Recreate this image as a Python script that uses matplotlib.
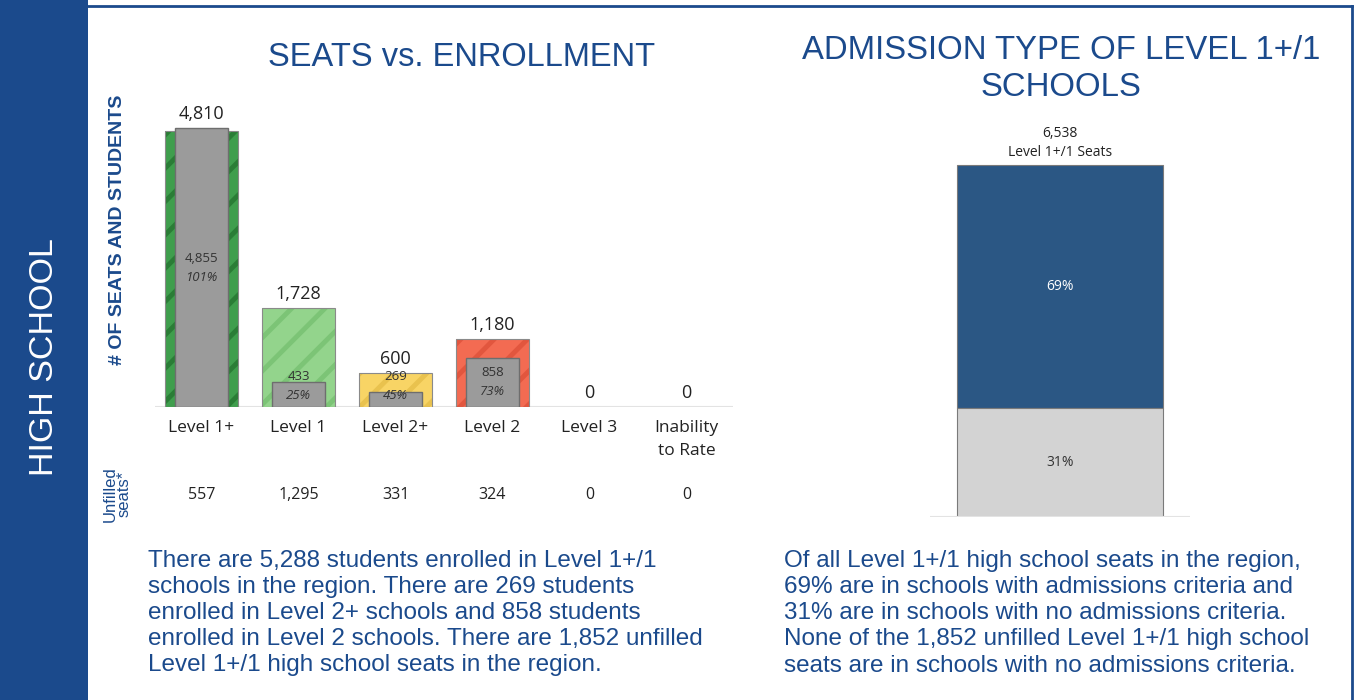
import numpy as np
import matplotlib
matplotlib.use("Agg")
import matplotlib.pyplot as plt
from matplotlib import font_manager

# --- data ---
levels = ["Level 1+", "Level 1", "Level 2+", "Level 2", "Level 3", "Inability\nto Rate"]
seats = [4810, 1728, 600, 1180, 0, 0]
enrolled = [4855, 433, 269, 858, 0, 0]
pct_filled = ["101%", "25%", "45%", "73%", "", ""]
unfilled = [557, 1295, 331, 324, 0, 0]
bar_colors = ["#3f9e4d", "#93d48c", "#f8d465", "#f36b52", "#cccccc", "#cccccc"]
stripe_colors = ["#2a7d36", "#7cc476", "#e9c24e", "#e2563e", "#bbbbbb", "#bbbbbb"]

total_seats = 6538
adm_share = [0.69, 0.31]
adm_labels = ["69%", "31%"]
adm_colors = ["#2b5784", "#d3d3d3"]

BLUE = "#1b4a8c"
W, H = 1355, 700

left_text = ("There are 5,288 students enrolled in Level 1+/1\n"
             "schools in the region. There are 269 students\n"
             "enrolled in Level 2+ schools and 858 students\n"
             "enrolled in Level 2 schools. There are 1,852 unfilled\n"
             "Level 1+/1 high school seats in the region.")
right_text = ("Of all Level 1+/1 high school seats in the region,\n"
              "69% are in schools with admissions criteria and\n"
              "31% are in schools with no admissions criteria.\n"
              "None of the 1,852 unfilled Level 1+/1 high school\n"
              "seats are in schools with no admissions criteria.")

names = sorted({f.name for f in font_manager.fontManager.ttflist})
narrow = [n for n in ["Liberation Sans Narrow", "DejaVu Sans Condensed"] if n in names]
narrow += ["Liberation Sans", "DejaVu Sans"]
book = ["Open Sans", "DejaVu Sans"]
para = ["Liberation Sans", "DejaVu Sans"]

plt.rcParams["hatch.linewidth"] = 3.5


def px_axes(fig, x0, y0, x1, y1):
    # pixel box (top-left origin) -> figure axes
    return fig.add_axes([x0 / W, 1 - y1 / H, (x1 - x0) / W, (y1 - y0) / H])


fig = plt.figure(figsize=(W / 100, H / 100), dpi=100)

# frame + side band
bg = fig.add_axes([0, 0, 1, 1])
bg.set_xlim(0, W)
bg.set_ylim(H, 0)
bg.axis("off")
bg.add_patch(plt.Rectangle((0, 0), 88, H, color=BLUE, lw=0))
bg.plot([88, 1352], [6, 6], color=BLUE, lw=2)
bg.plot([1352, 1352], [6, H], color=BLUE, lw=2)
bg.text(45, 357, "HIGH SCHOOL", rotation=90, color="white", fontsize=24.5,
        family=narrow, ha="center", va="center")
bg.text(118, 230, "# OF SEATS AND STUDENTS", rotation=90, color=BLUE, fontsize=14,
        fontweight="bold", family=narrow, ha="center", va="center")
bg.text(117, 494, "Unfilled\nseats*", rotation=90, color=BLUE, fontsize=12,
        family=narrow, ha="center", va="center", linespacing=0.9)
bg.text(462, 58, "SEATS vs. ENROLLMENT", color=BLUE, fontsize=23.5,
        family=narrow, ha="center", va="center")
bg.text(1061, 69, "ADMISSION TYPE OF LEVEL 1+/1\nSCHOOLS", color=BLUE, fontsize=23.7,
        family=narrow, ha="center", va="center", linespacing=1.22)
bg.text(148, 613, left_text, color=BLUE, fontsize=17.5, family=para,
        ha="left", va="center", linespacing=1.25)
bg.text(784, 613, right_text, color=BLUE, fontsize=17.5, family=para,
        ha="left", va="center", linespacing=1.25)

# --- left chart: seats vs enrollment ---
ax = px_axes(fig, 155, 97, 733, 407)
x = np.arange(len(levels))
ymax = 4810 * 310 / 276
ax.set_xlim(-0.48, 5.48)
ax.set_ylim(0, ymax)
ax.axis("off")
ax.axhline(0, color="#e3e3e3", lw=1.5, zorder=1)

for i in x:
    if seats[i] > 0:
        ax.bar(i, seats[i], 0.75, color=bar_colors[i], edgecolor=stripe_colors[i],
               hatch="/", lw=0, zorder=2)
        ax.bar(i, seats[i], 0.75, fill=False, edgecolor="#8a8a8a", lw=0.8, zorder=3)
    if enrolled[i] > 0:
        ax.bar(i, enrolled[i], 0.55, color="#9b9b9b", edgecolor="#6e6e6e", lw=1, zorder=4)
        c = max(enrolled[i] / 2, 370)
        off = 9.5 * ymax / 310
        ax.text(i, c + off, f"{enrolled[i]:,}", ha="center", va="center",
                fontsize=9.5, color="#333333", family=book, zorder=5)
        ax.text(i, c - off, pct_filled[i], ha="center", va="center", fontsize=9.5,
                style="italic", color="#333333", family=book, zorder=5)
    top = max(seats[i], enrolled[i])
    ax.text(i, top + 5 * ymax / 310, f"{seats[i]:,}", ha="center", va="bottom",
            fontsize=13, color="#222222", family=book)
    ax.text(i, -13 * ymax / 310, levels[i], ha="center", va="top", fontsize=12.5,
            color="#222222", family=book, linespacing=1.6)
    ax.text(i, -88 * ymax / 310, f"{unfilled[i]:,}", ha="center", va="center",
            fontsize=11.5, color="#222222", family=book)

# --- right chart: admission type ---
ax2 = px_axes(fig, 930, 100, 1190, 517)
ytop = total_seats * 417 / 352
ax2.set_xlim(-0.634, 0.634)
ax2.set_ylim(0, ytop)
ax2.axis("off")
ax2.axhline(0, color="#e3e3e3", lw=1.5)
vals = [total_seats * s for s in adm_share]
bottoms = [vals[1], 0]
txt_col = ["white", "#333333"]
for v, b, col, lab, tc in zip(vals, bottoms, adm_colors, adm_labels, txt_col):
    ax2.bar(0, v, 1.0, bottom=b, color=col, edgecolor="#7a7a7a", lw=0.8)
    ax2.text(0, b + v / 2, lab, ha="center", va="center", fontsize=10,
             color=tc, family=book)
ax2.text(0, total_seats + 5 * ytop / 417, f"{total_seats:,}\nLevel 1+/1 Seats",
         ha="center", va="bottom", fontsize=10, color="#222222", family=book,
         linespacing=1.4)

fig.savefig("out.png", dpi=100)
